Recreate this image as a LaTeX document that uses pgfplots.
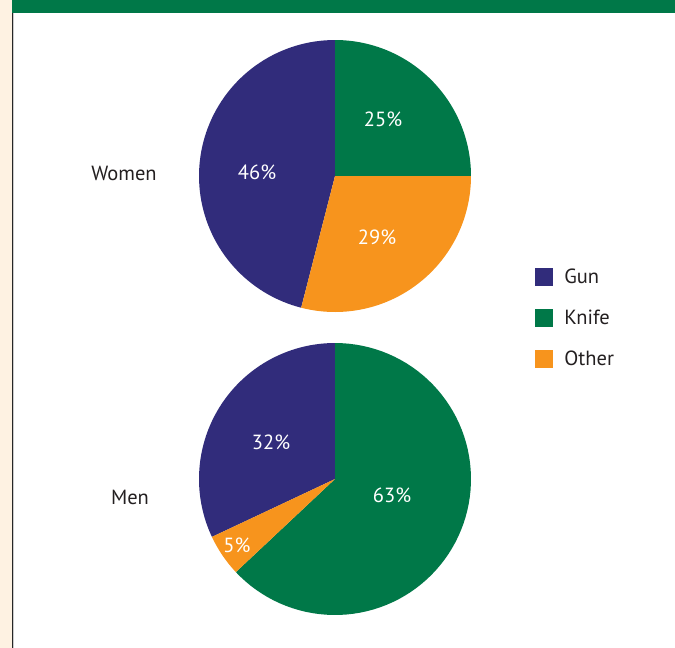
\documentclass[border=0pt]{standalone}
\usepackage{pgfplots}
\pgfplotsset{compat=1.18}
\usepackage{pgfplotstable}
\usepgfplotslibrary{polar}
\usepackage{fontspec}
\setmainfont{PT Sans}

\definecolor{gun}{RGB}{49,44,123}
\definecolor{knife}{RGB}{0,120,72}
\definecolor{other}{RGB}{247,148,29}
\definecolor{cream}{RGB}{254,242,226}
\definecolor{ink}{RGB}{35,31,32}

% shares in percent
\pgfplotstableread{
category value
Gun   46
Knife 25
Other 29
}\women
\pgfplotstableread{
category value
Gun   32
Knife 63
Other 5
}\men

\pgfplotsset{
  pie/.style={
    scale only axis, width=272pt, height=272pt,
    ymin=0, ymax=1, hide axis, clip=false,
  },
  slice/.style={fill=#1, draw=none, samples=80},
}

\begin{document}
\begin{tikzpicture}[every node/.style={font=\fontsize{20.5}{24}\selectfont}]
\useasboundingbox (0,0) rectangle (675pt,-648pt);
\fill[cream] (0,0) rectangle (12pt,-648pt);
\fill[knife] (12pt,0) rectangle (675pt,-12.5pt);
\fill[black!85] (11.5pt,-12.5pt) rectangle (13.3pt,-648pt);
\fill[black!20] (13.3pt,-12.5pt) rectangle (14pt,-648pt);

% knife starts at 12 o'clock, slices run clockwise: knife, other, gun
\pgfplotstablegetelem{1}{value}\of\women\pgfmathsetmacro\wk{\pgfplotsretval}
\pgfplotstablegetelem{2}{value}\of\women\pgfmathsetmacro\wo{\pgfplotsretval}
\pgfmathsetmacro\wa{90-3.6*\wk}
\pgfmathsetmacro\wb{90-3.6*(\wk+\wo)}
\pgfmathsetmacro\wc{\wb+360}

\begin{polaraxis}[pie, at={(335pt,-176pt)}, anchor=center,
  legend style={at={(1.225,0.175)}, anchor=north west, draw=none, fill=none,
    font=\fontsize{20.5}{24}\selectfont, text=ink, row sep=21pt,
    /tikz/every odd column/.append style={column sep=9pt}},
  legend cell align=left,
  legend image code/.code={\fill[#1] (0pt,-9pt) rectangle (18pt,9pt);},
  ]
\addplot[slice=gun, domain=90:\wc] {1} -- (axis cs:0,0) -- cycle;
\addplot[slice=knife, domain=\wa:90] {1} -- (axis cs:0,0) -- cycle;
\addplot[slice=other, domain=\wb:\wa] {1} -- (axis cs:0,0) -- cycle;
\legend{Gun, Knife, Other}
\end{polaraxis}

\pgfplotstablegetelem{1}{value}\of\men\pgfmathsetmacro\mk{\pgfplotsretval}
\pgfplotstablegetelem{2}{value}\of\men\pgfmathsetmacro\mo{\pgfplotsretval}
\pgfmathsetmacro\ma{90-3.6*\mk}
\pgfmathsetmacro\mb{90-3.6*(\mk+\mo)}
\pgfmathsetmacro\mc{\mb+360}

\begin{polaraxis}[pie, at={(335pt,-479pt)}, anchor=center]
\addplot[slice=gun, domain=90:\mc] {1} -- (axis cs:0,0) -- cycle;
\addplot[slice=knife, domain=\ma:90] {1} -- (axis cs:0,0) -- cycle;
\addplot[slice=other, domain=\mb:\ma] {1} -- (axis cs:0,0) -- cycle;
\end{polaraxis}

\node[text=ink] at (124pt,-173pt) {Women};
\node[text=ink] at (130pt,-497pt) {Men};
\node[white] at (383pt,-119pt) {25\%};
\node[white] at (377pt,-237pt) {29\%};
\node[white] at (257pt,-172pt) {46\%};
\node[white] at (392pt,-495pt) {63\%};
\node[white] at (271pt,-442pt) {32\%};
\node[white] at (237pt,-545pt) {5\%};
\end{tikzpicture}
\end{document}
